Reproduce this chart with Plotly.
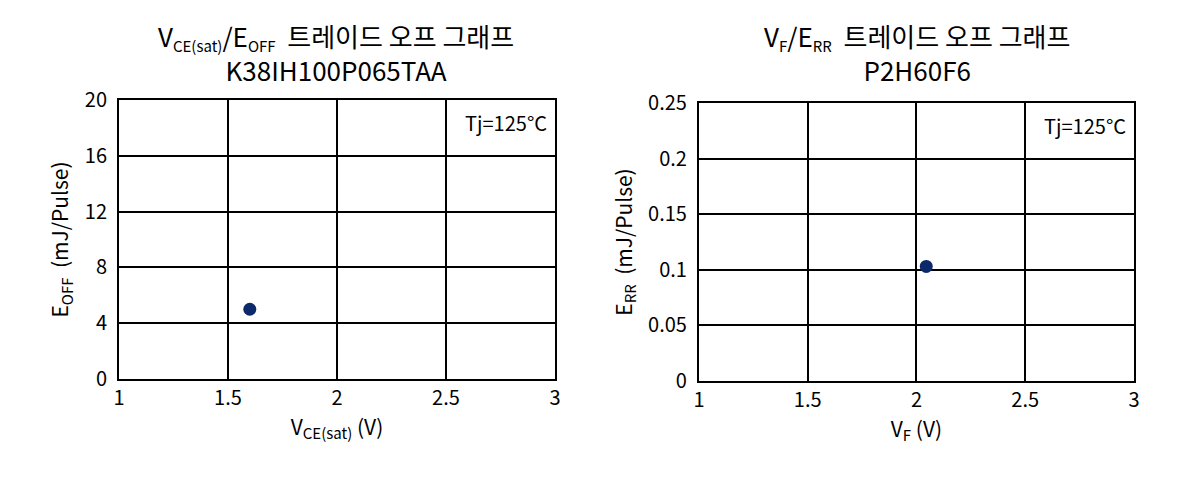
import plotly.graph_objects as go

# left chart: IGBT Vce(sat) vs Eoff
igbt_vce = [1.6]
igbt_eoff = [5.0]
igbt_name = "K38IH100P065TAA"

# right chart: diode Vf vs Err
diode_vf = [2.045]
diode_err = [0.103]
diode_name = "P2H60F6"

x_ticks = [1, 1.5, 2, 2.5, 3]
x_tick_text = ["1", "1.5", "2", "2.5", "3"]
eoff_ticks = [0, 4, 8, 12, 16, 20]
err_ticks = [0, 0.05, 0.1, 0.15, 0.2, 0.25]
err_tick_text = ["0", "0.05", "0.1", "0.15", "0.2", "0.25"]

FONT = "Noto Sans CJK KR"
DOT = "#0c2a6a"


def sub(txt, size=15):
    return f"<sub><span style='font-size:{size}px'>{txt}</span></sub>"


def axis_style(**kw):
    base = dict(
        showgrid=True,
        gridcolor="black",
        gridwidth=1.5,
        showline=True,
        linecolor="black",
        linewidth=2,
        mirror=True,
        zeroline=False,
        ticks="",
        automargin=False,
        tickfont=dict(family=FONT, size=20, color="black"),
        title_font=dict(family=FONT, size=21, color="black"),
    )
    base.update(kw)
    return base


fig = go.Figure()
fig.add_trace(go.Scatter(
    x=igbt_vce, y=igbt_eoff, mode="markers",
    marker=dict(size=13, color=DOT), xaxis="x", yaxis="y", showlegend=False,
))
fig.add_trace(go.Scatter(
    x=diode_vf, y=diode_err, mode="markers",
    marker=dict(size=13, color=DOT), xaxis="x2", yaxis="y2", showlegend=False,
))

fig.update_layout(
    width=1200,
    height=480,
    margin=dict(l=0, r=0, t=0, b=0),
    paper_bgcolor="white",
    plot_bgcolor="white",
    font=dict(family=FONT, color="black"),
    xaxis=axis_style(
        domain=[0.0925, 0.4558], range=[1, 3], tickvals=x_ticks, ticktext=x_tick_text,
        anchor="y", ticklabelstandoff=0,
        title=dict(text="V" + sub("CE(sat)") + " (V)", standoff=8),
    ),
    yaxis=axis_style(
        domain=[0.2271, 0.8083], range=[0, 20], tickvals=eoff_ticks,
        anchor="x", ticklabelstandoff=6,
        title=dict(text="E" + sub("OFF") + "  (mJ/Pulse)", standoff=10),
    ),
    xaxis2=axis_style(
        domain=[0.5758, 0.9383], range=[1, 3], tickvals=x_ticks, ticktext=x_tick_text,
        anchor="y2", ticklabelstandoff=0,
        title=dict(text="V" + sub("F") + " (V)", standoff=8),
    ),
    yaxis2=axis_style(
        domain=[0.2229, 0.8021], range=[0, 0.25], tickvals=err_ticks, ticktext=err_tick_text,
        anchor="x2", ticklabelstandoff=6,
        title=dict(text="E" + sub("RR") + "  (mJ/Pulse)", standoff=10),
    ),
)

titles = [
    (0.2733, "V" + sub("CE(sat)") + "/E" + sub("OFF") + "  트레이드 오프 그래프<br>" + igbt_name),
    (0.7575, "V" + sub("F") + "/E" + sub("RR") + "  트레이드 오프 그래프<br>" + diode_name),
]
for xc, text in titles:
    fig.add_annotation(
        x=xc, y=1 - 44 / 480, xref="paper", yref="paper", xanchor="center", yanchor="middle",
        text=text, showarrow=False, font=dict(family=FONT, size=26, color="black"),
    )

for xr, yr, ytop in [("x", "y", 20), ("x2", "y2", 0.25)]:
    fig.add_annotation(
        x=3, y=ytop, xref=xr, yref=yr, xanchor="right", yanchor="top",
        xshift=-6, yshift=-6, text="Tj=125°C", showarrow=False,
        font=dict(family=FONT, size=20, color="black"),
    )

fig.write_html("out.html")
